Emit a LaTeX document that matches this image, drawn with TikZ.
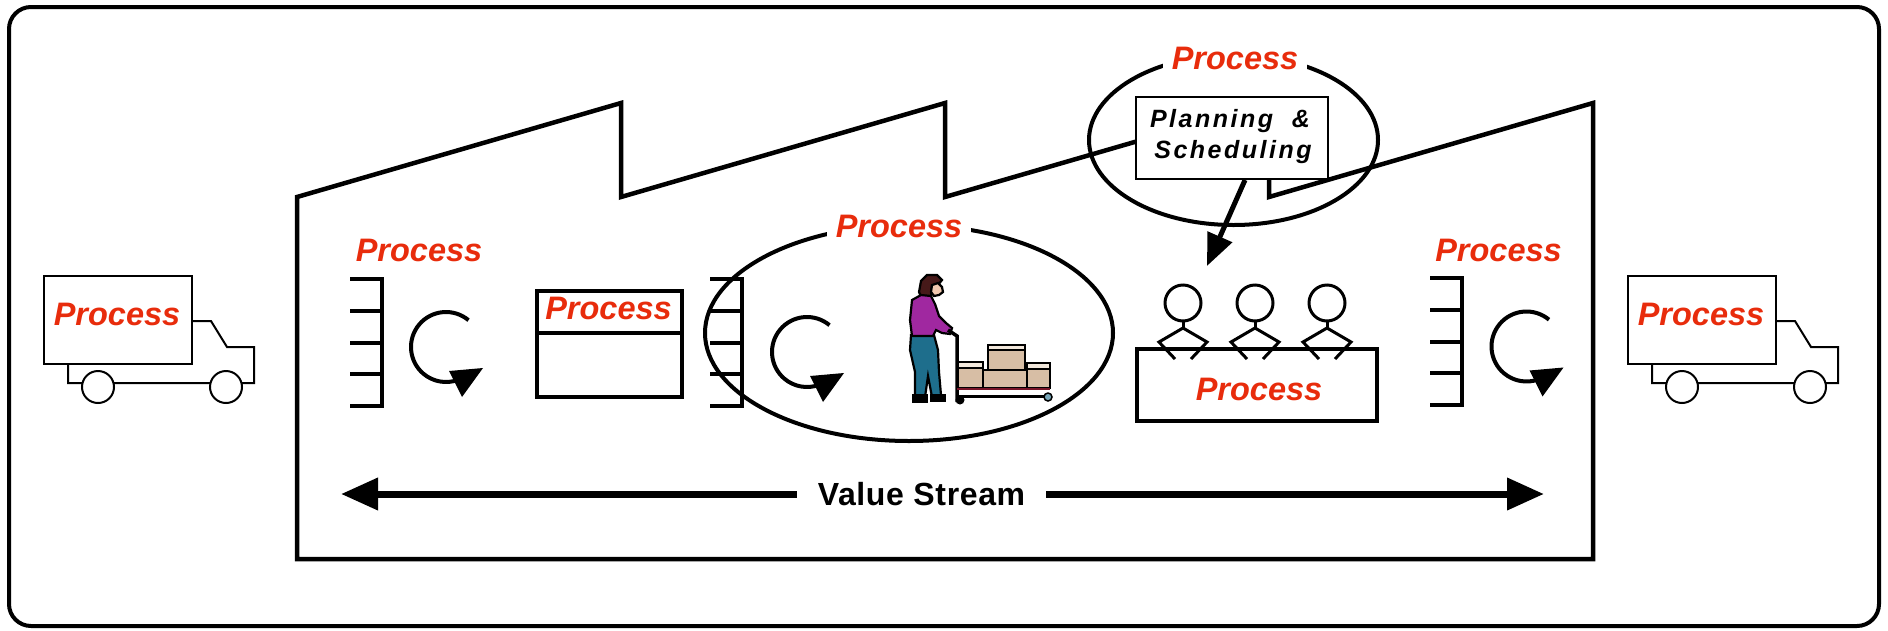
\documentclass[tikz,border=0pt]{standalone}
\usepackage{fontspec}
\setmainfont{Liberation Sans}
\usetikzlibrary{arrows.meta}

\definecolor{procred}{RGB}{232,44,12}
\definecolor{shirt}{RGB}{160,40,160}
\definecolor{pants}{RGB}{30,110,140}
\definecolor{hair}{RGB}{70,25,25}
\definecolor{skin}{RGB}{240,200,175}
\definecolor{boxtan}{RGB}{215,190,165}
\definecolor{boxtop}{RGB}{242,232,220}
\definecolor{cartred}{RGB}{120,20,40}

\newcommand\procfont{\fontsize{32.5}{36}\selectfont\bfseries\itshape}
\newcommand\planfont{\fontsize{25}{31}\selectfont\bfseries\itshape\addfontfeatures{LetterSpace=10}}
\newcommand\vsfont{\fontsize{32}{36}\selectfont\bfseries\addfontfeatures{LetterSpace=2}}

\tikzset{
  proclabel/.style={text=procred, font=\procfont, inner sep=0pt},
  masked/.style={fill=white, inner xsep=9pt, inner ysep=4pt},
  heavy/.style={line width=4pt},
  thin truck/.style={line width=2pt},
  outline/.style={draw=black, line width=2.2pt},
  invrack/.pic={
    \draw[heavy] (-32,0) -- (0,0) -- (0,127) -- (-32,127);
    \foreach \t in {31.75,63.5,95.25} \draw[heavy] (-32,\t) -- (0,\t);
  },
  cyclearrow/.pic={
    \draw[heavy] (-50:35) arc[start angle=-50, end angle=-290, radius=35];
    \fill (3,24) -- (37,21) -- (16,50) -- cycle;
  },
  truck/.pic={
    \draw[thin truck] (0,0) rectangle (148,88);
    \draw[thin truck] (148,45) -- (167,45) -- (183,71) -- (210,71) -- (210,107) -- (24,107) -- (24,88);
    \draw[thin truck, fill=white] (54,111) circle[radius=16];
    \draw[thin truck, fill=white] (182,111) circle[radius=16];
  },
  sitter/.pic={
    \draw[line width=3pt, fill=white] (0,0) circle[radius=18];
    \draw[line width=3pt] (0,18) -- (0,25);
    \draw[line width=3pt] (-8,56) -- (-24,39) -- (0,25) -- (24,39) -- (8,56);
  },
}

\begin{document}
\begin{tikzpicture}[x=1pt, y=-1pt, line join=miter]
\useasboundingbox (0,0) rectangle (1888,630);

% outer frame
\draw[line width=4pt, rounded corners=22pt] (9,7) rectangle (1879,626);

% factory building with saw-tooth roof
\draw[line width=4.5pt] (297,559) -- (297,197) -- (621,103) -- (621,197) -- (945,103)
  -- (945,197) -- (1269,103) -- (1269,197) -- (1593,103) -- (1593,559) -- cycle;

% trucks
\pic at (44,276) {truck};
\pic at (1628,276) {truck};
\node[proclabel] (ptruckL) at (117,314.5) {Process};
\node[proclabel] (ptruckR) at (1701,314.5) {Process};

% first process: racks and cycle
\node[proclabel] (pleft) at (419,250) {Process};
\pic at (382,279) {invrack};
\pic at (446,347) {cyclearrow};

% process box with title row
\node[draw, heavy, minimum width=145pt, minimum height=106.5pt, inner sep=0pt] (pbox) at (609.5,343.75) {};
\draw[heavy] (pbox.west |- 0,333) -- (pbox.east |- 0,333);
\node[proclabel] (pboxlabel) at (608.5,308.5) {Process};

% middle process in an ellipse
\draw[heavy] (909,333) ellipse[x radius=204, y radius=108];
\node[proclabel, masked] (pmid) at (899,226) {Process};
\pic at (742,279) {invrack};
\pic at (807,352) {cyclearrow};

% worker with hand truck
\draw[outline, fill=hair] (921,281) -- (927,275) -- (937,275) -- (942,280) -- (938,285)
  -- (932,286) -- (931,297) -- (922,299) -- (919,292) -- cycle;
\draw[outline, fill=skin] (932,285) -- (938,283) -- (942,287) -- (943,292) -- (939,295)
  -- (934,296) -- (931,292) -- cycle;
\draw[outline, fill=pants] (911,335) -- (934,335) -- (938,350) -- (939,372) -- (941,395)
  -- (932,397) -- (928,376) -- (925,397) -- (915,397) -- (915,372) -- (910,350) -- cycle;
\draw[outline, fill=shirt] (912,300) -- (921,295) -- (931,296) -- (935,304) -- (939,316)
  -- (946,323) -- (952,328) -- (950,334) -- (942,333) -- (936,330) -- (933,336)
  -- (912,336) -- (910,320) -- cycle;
\fill (912,394) rectangle (928,403);
\fill (930,394) rectangle (946,402);
\draw[line width=3.5pt] (948,330) -- (957,336) -- (957,402);
\draw[outline, fill=boxtan] (988,345) rectangle (1025,370);
\draw[outline, fill=boxtop] (988,345) rectangle (1025,350);
\draw[outline, fill=boxtan] (958,362) rectangle (983,388);
\draw[outline, fill=boxtop] (958,362) rectangle (983,368);
\draw[outline, fill=boxtan] (983,370) rectangle (1027,388);
\draw[outline, fill=boxtan] (1027,363) rectangle (1050,388);
\draw[outline, fill=boxtop] (1027,363) rectangle (1050,369);
\draw[line width=2pt, cartred] (957,389) -- (1050,389);
\draw[line width=3pt] (957,396) -- (1046,396);
\draw[line width=1.5pt, fill=pants!60] (1048,397) circle[radius=4];
\fill (960,400) circle[radius=4.5];

% planning and scheduling
\draw[heavy] (1233.5,140) ellipse[x radius=144.5, y radius=85];
\node[proclabel, masked] (pplan) at (1235,58) {Process};
\node[draw, fill=white, line width=2pt, minimum width=192pt, minimum height=82pt, inner sep=0pt] (plan) at (1232,138) {};
\node[font=\planfont, anchor=base, inner sep=0pt] (plan1) at (1230,127) {Planning \ \&};
\node[font=\planfont, anchor=base, inner sep=0pt] (plan2) at (1233,158) {Scheduling};
\coordinate (ptip) at (1207,266);
\draw[line width=5pt, -{Triangle[length=32pt, width=26pt]}] ([xshift=13pt]plan.south) -- (ptip);

% team at the table
\pic at (1183,303) {sitter};
\pic at (1255,303) {sitter};
\pic at (1327,303) {sitter};
\node[draw, line width=4.5pt, minimum width=240pt, minimum height=72pt, inner sep=0pt] (table) at (1257,385) {};
\node[proclabel] (ptable) at (1259,389) {Process};

% last process
\node[proclabel] (pright) at (1498.5,250.5) {Process};
\pic at (1462,278) {invrack};
\pic at (1526.5,346.5) {cyclearrow};

% value stream arrow
\coordinate (vsL) at (341,494);
\coordinate (vsR) at (1544,494);
\draw[line width=7pt, {Triangle[length=37pt, width=31pt]}-{Triangle[length=37pt, width=31pt]}] (vsL) -- (vsR);
\node[font=\vsfont, fill=white, inner xsep=21pt, inner ysep=2pt] (vs) at (921.5,494.5) {Value Stream};
\end{tikzpicture}
\end{document}
